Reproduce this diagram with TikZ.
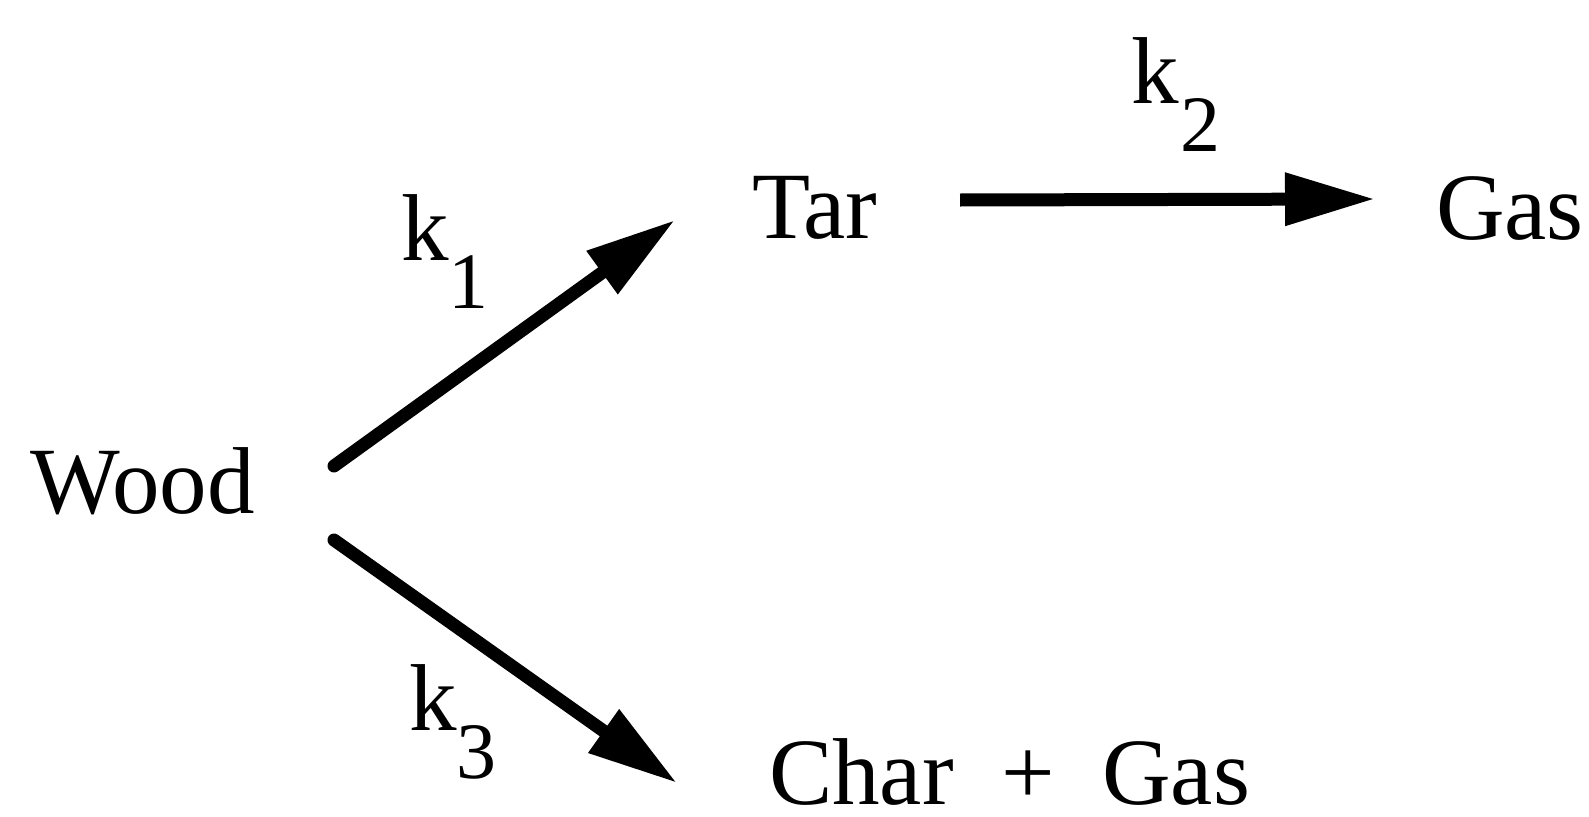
\documentclass[tikz,border=0pt]{standalone}
\usepackage{fontspec}
\setmainfont{Liberation Serif}
\usetikzlibrary{arrows.meta}
\newcommand{\bigtxt}{\fontsize{95pt}{110pt}\selectfont}
\newcommand{\subtxt}{\fontsize{80pt}{90pt}\selectfont}
\tikzset{
  species/.style={inner sep=0pt, outer sep=0pt, anchor=base west, font=\bigtxt},
  ratelab/.style={inner sep=0pt, outer sep=0pt, anchor=base west, font=\bigtxt},
  rxn/.style={line width=13pt, line cap=round, -{Triangle[length=90pt,width=50pt]}}
}
\begin{document}
\begin{tikzpicture}[x=1pt,y=-1pt]
\useasboundingbox (0,0) rectangle (1589,816);
\node[species] (wood) at (30,513) {Wood};
\node[species] (tar) at (752,238) {Tar};
\node[species] (gas) at (1436,239) {Gas};
\node[species] (chargas) at (769,804) {Char\hspace{0.5em}+\hspace{0.5em}Gas};
\node[ratelab] (k1) at (401,260) {k\raisebox{-48pt}{\subtxt 1}};
\node[ratelab] (k2) at (1131,103) {k\hspace{2pt}\raisebox{-48pt}{\subtxt 2}};
\node[ratelab] (k3) at (409,730) {k\raisebox{-48pt}{\subtxt 3}};
\coordinate (w1) at (334,466);
\coordinate (w2) at (334,540);
\coordinate (t1) at (675,220);
\coordinate (c1) at (677,783);
\coordinate (tr) at (960,200);
\coordinate (g1) at (1375,199);
\draw[rxn] (w1) -- (t1);
\draw[rxn] (w2) -- (c1);
\draw[rxn, line cap=butt] (tr) -- (g1);
\end{tikzpicture}
\end{document}
